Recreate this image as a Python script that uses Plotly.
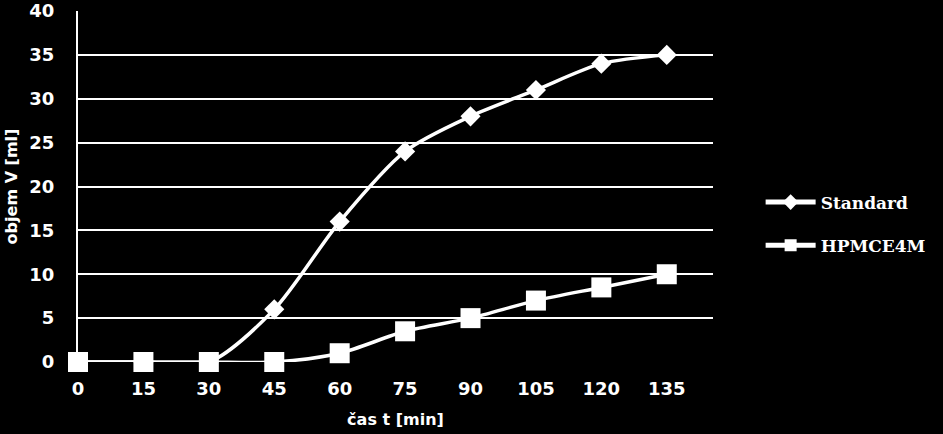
import plotly.graph_objects as go

time_min = [0, 15, 30, 45, 60, 75, 90, 105, 120, 135]
standard = [0, 0, 0, 6, 16, 24, 28, 31, 34, 35]
hpmce4m = [0, 0, 0, 0, 1, 3.5, 5, 7, 8.5, 10]
y_ticks = [0, 5, 10, 15, 20, 25, 30, 35, 40]

fig = go.Figure()
fig.add_trace(go.Scatter(
    x=time_min, y=standard, name="Standard", mode="lines+markers",
    line=dict(color="white", width=3.5, shape="spline", smoothing=0.8),
    marker=dict(symbol="diamond", size=15.5, color="white"),
    cliponaxis=False, legendgroup="a"))
fig.add_trace(go.Scatter(
    x=time_min, y=hpmce4m, name="HPMCE4M", mode="lines+markers",
    line=dict(color="white", width=3.5, shape="spline", smoothing=0.8),
    marker=dict(symbol="square", size=20, color="white"),
    cliponaxis=False, legendgroup="b"))

tick_font = dict(family="DejaVu Sans", size=18, color="white", weight="bold")
title_font = dict(family="DejaVu Sans", size=16, color="white", weight="bold")
fig.update_layout(
    width=943, height=434,
    paper_bgcolor="black", plot_bgcolor="black",
    margin=dict(l=78, r=230, t=11, b=72),
    xaxis=dict(range=[0, 145.6], tickvals=time_min, ticktext=[str(v) for v in time_min],
               showgrid=False, zeroline=False, showline=False, ticks="",
               tickfont=tick_font, ticklabelstandoff=14, automargin=False,
               title=dict(text="čas t [min]", font=title_font, standoff=15)),
    yaxis=dict(range=[0, 40], tickvals=y_ticks, showgrid=True, gridcolor="white", gridwidth=2,
               zeroline=False, showline=True, linecolor="white", linewidth=2, ticks="",
               tickfont=tick_font, ticklabelstandoff=18, automargin=False,
               title=dict(text="objem V [ml]", font=title_font, standoff=8)),
    legend=dict(x=1.075, y=0.393, xanchor="left", yanchor="middle", bgcolor="black",
                font=dict(family="DejaVu Serif", size=17, color="white", weight="bold"),
                traceorder="grouped", tracegroupgap=18, itemwidth=50, itemsizing="constant"),
    showlegend=True,
)
fig.write_html("out.html", config={"displayModeBar": False},
               post_script="document.body.style.margin='0';document.body.style.background='black';document.body.style.overflow='hidden';")
